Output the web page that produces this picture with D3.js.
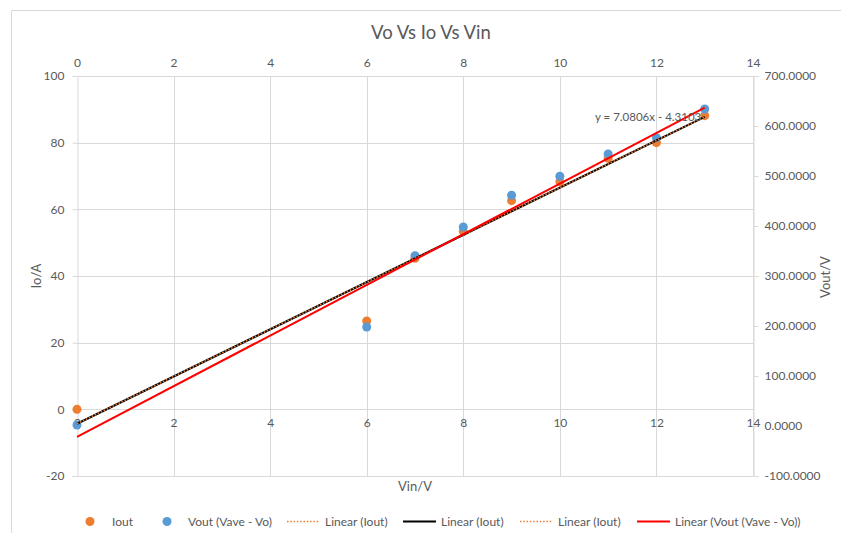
<!DOCTYPE html>
<html>
<head>
<meta charset="utf-8">
<script src="https://cdn.jsdelivr.net/npm/d3@7"></script>
<style>
  html, body { margin: 0; padding: 0; background: #fff; }
  svg { display: block; font-family: Lato, "Open Sans", sans-serif; }
</style>
</head>
<body>
<svg id="chart" width="841" height="533"></svg>
<script>
// Measured input voltage (V)
const vin = [0, 6, 7, 8, 9, 10, 11, 12, 13];
// Output current (A), left axis
const iout = [0, 26.5, 45.3, 53.4, 62.6, 68.3, 75.3, 80.0, 88.1];
// Output voltage Vave - Vo (V), right axis
const vout = [2, 198, 340.6, 398, 461.4, 499.4, 544, 576.6, 634];
// Linear trend of Iout: [slope, intercept]
const ioutTrend = [7.0806, -4.3103];
// Axis ticks
const xTicks = [0, 2, 4, 6, 8, 10, 12, 14];
const leftTicks = [-20, 0, 20, 40, 60, 80, 100];
const rightTicks = [-100, 0, 100, 200, 300, 400, 500, 600, 700];

const svg = d3.select("#chart");
const textColor = "#595959";
const gridColor = "#d9d9d9";
const orange = "#ED7D31", blue = "#5B9BD5", red = "#FF0000";

// plain hyphen for negative numbers
const hy = f => d => f(d).replace("\u2212", "-");

const x = d3.scaleLinear().domain([0, 14]).range([77, 753]);
const yL = d3.scaleLinear().domain([-20, 100]).range([476, 76]);
const yR = d3.scaleLinear().domain([-100, 700]).range([476, 76]);

// chart frame edges
svg.append("line").attr("x1", 11.5).attr("x2", 841).attr("y1", 10.5).attr("y2", 10.5).attr("stroke", gridColor);
svg.append("line").attr("x1", 11.5).attr("x2", 11.5).attr("y1", 10.5).attr("y2", 533).attr("stroke", gridColor);

// title
svg.append("text").attr("x", 431).attr("y", 39).attr("text-anchor", "middle")
  .attr("font-size", 18.5).attr("fill", textColor).text("Vo Vs Io Vs Vin");

// gridlines
const grid = svg.append("g");
grid.selectAll(".gx").data(xTicks.filter(d => d > 0)).join("line")
  .attr("x1", d => Math.round(x(d)) + 0.5).attr("x2", d => Math.round(x(d)) + 0.5)
  .attr("y1", yL(100)).attr("y2", yL(-20)).attr("stroke", gridColor);
grid.selectAll(".gy").data(leftTicks).join("line")
  .attr("x1", x(0)).attr("x2", x(14))
  .attr("y1", d => Math.round(yL(d)) + 0.5).attr("y2", d => Math.round(yL(d)) + 0.5)
  .attr("stroke", gridColor);

// left axis
const axL = svg.append("g").attr("transform", `translate(${Math.round(x(0)) + 0.5},0)`)
  .call(d3.axisLeft(yL).tickValues(leftTicks).tickSize(5).tickPadding(8).tickFormat(hy(d3.format("d"))));
// right axis
const axR = svg.append("g").attr("transform", `translate(${Math.round(x(14)) + 0.5},0)`)
  .call(d3.axisRight(yR).tickValues(rightTicks).tickSize(5).tickPadding(6).tickFormat(hy(d3.format(".4f"))));
// top axis (secondary horizontal)
const axT = svg.append("g").attr("transform", `translate(0,${Math.round(yL(100)) + 0.5})`)
  .call(d3.axisTop(x).tickValues(xTicks).tickSize(0).tickPadding(10));
// bottom axis crossing at Io = 0
const axB = svg.append("g").attr("transform", `translate(0,${Math.round(yL(0)) + 0.5})`)
  .call(d3.axisBottom(x).tickValues(xTicks).tickSize(0).tickPadding(9));

[axL, axR, axT, axB].forEach(g => {
  g.select(".domain").attr("stroke", gridColor);
  g.selectAll(".tick line").attr("stroke", gridColor);
  g.selectAll(".tick text").attr("fill", textColor).attr("font-size", 12)
    .attr("font-family", "Lato, 'Open Sans', sans-serif");
});
axT.select(".domain").remove();
axB.select(".domain").remove();

// axis titles
svg.append("text").attr("transform", "translate(41,276) rotate(-90)").attr("text-anchor", "middle")
  .attr("font-size", 13).attr("fill", textColor).text("Io/A");
svg.append("text").attr("transform", "translate(830,277) rotate(-90)").attr("text-anchor", "middle")
  .attr("font-size", 13).attr("fill", textColor).text("Vout/V");
svg.append("text").attr("x", 415).attr("y", 491).attr("text-anchor", "middle")
  .attr("font-size", 13).attr("fill", textColor).text("Vin/V");

// data points
const pts = vin.map((v, i) => ({ v, io: iout[i], vo: vout[i] }));
svg.append("g").selectAll("circle").data(pts).join("circle")
  .attr("cx", d => x(d.v)).attr("cy", d => yL(d.io)).attr("r", 4.5).attr("fill", orange);
svg.append("g").selectAll("circle").data(pts).join("circle")
  .attr("cx", d => x(d.v)).attr("cy", d => yR(d.vo)).attr("r", 4.5).attr("fill", blue);

// least-squares fit for the Vout series
function linFit(xs, ys) {
  const n = xs.length, mx = d3.mean(xs), my = d3.mean(ys);
  let sxy = 0, sxx = 0;
  for (let i = 0; i < n; i++) { sxy += (xs[i] - mx) * (ys[i] - my); sxx += (xs[i] - mx) ** 2; }
  const m = sxy / sxx;
  return [m, my - m * mx];
}
const voutTrend = linFit(vin, vout);
const xExt = d3.extent(vin);

const ioLine = d3.line().x(d => x(d)).y(d => yL(ioutTrend[0] * d + ioutTrend[1]));
const voLine = d3.line().x(d => x(d)).y(d => yR(voutTrend[0] * d + voutTrend[1]));

// Iout trendlines: solid black under dotted orange
svg.append("path").attr("d", ioLine(xExt)).attr("stroke", "#000").attr("stroke-width", 2.2).attr("fill", "none");
svg.append("path").attr("d", ioLine(xExt)).attr("stroke", orange).attr("stroke-width", 1.6)
  .attr("stroke-dasharray", "1.5,1.8").attr("fill", "none");
// Vout trendline
svg.append("path").attr("d", voLine(xExt)).attr("stroke", red).attr("stroke-width", 2).attr("fill", "none");

// trend equation
svg.append("text").attr("x", 595).attr("y", 121).attr("font-size", 11.5).attr("fill", textColor)
  .text(`y = ${ioutTrend[0].toFixed(4)}x - ${Math.abs(ioutTrend[1]).toFixed(4)}`);

// legend
const legend = [
  { type: "dot", color: orange, label: "Iout", x: 90, tx: 112 },
  { type: "dot", color: blue, label: "Vout (Vave - Vo)", x: 167, tx: 188 },
  { type: "dotted", color: orange, label: "Linear (Iout)", x: 287, tx: 325 },
  { type: "solid", color: "#000", label: "Linear (Iout)", x: 403, tx: 441 },
  { type: "dotted", color: orange, label: "Linear (Iout)", x: 520, tx: 558 },
  { type: "solid", color: red, label: "Linear (Vout (Vave - Vo))", x: 637, tx: 675 }
];
const ly = 521.5;
const lg = svg.append("g");
legend.forEach(d => {
  if (d.type === "dot") {
    lg.append("circle").attr("cx", d.x).attr("cy", ly).attr("r", 4.5).attr("fill", d.color);
  } else {
    lg.append("line").attr("x1", d.x).attr("x2", d.x + 33).attr("y1", ly).attr("y2", ly)
      .attr("stroke", d.color).attr("stroke-width", d.type === "dotted" ? 1.6 : 2.2)
      .attr("stroke-dasharray", d.type === "dotted" ? "1.5,1.8" : null);
  }
  lg.append("text").attr("x", d.tx).attr("y", ly + 4.5).attr("font-size", 12).attr("fill", textColor).text(d.label);
});
</script>
</body>
</html>
